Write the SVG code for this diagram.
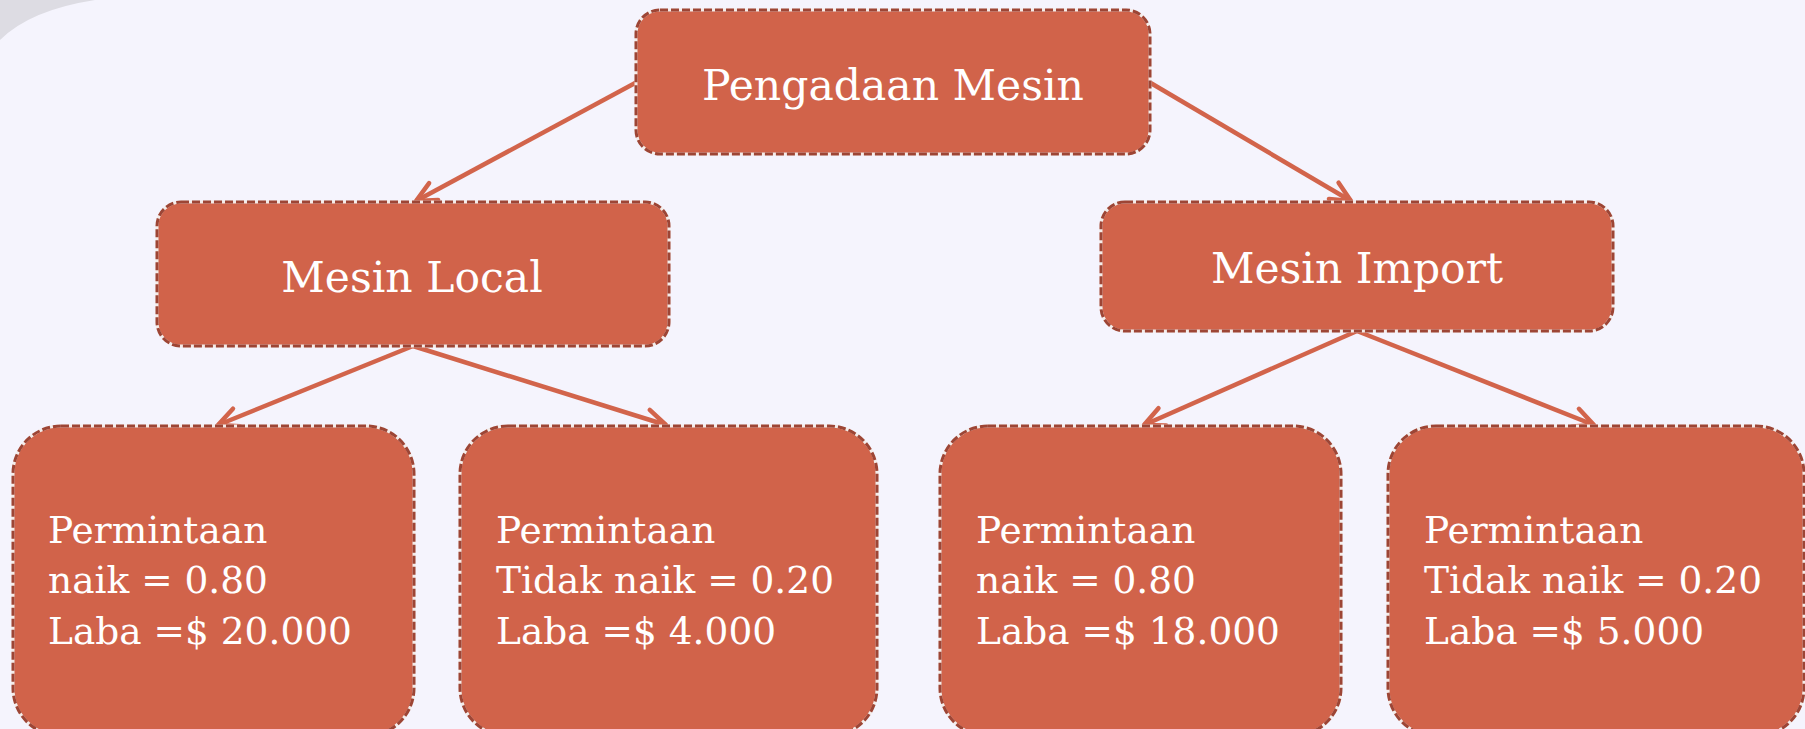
<svg xmlns="http://www.w3.org/2000/svg" width="1805" height="729" viewBox="0 0 1805 729">
<style>
.box{fill:#d1634a;stroke:#f3ece9;stroke-width:3}
.dash{fill:none;stroke:#9d4535;stroke-width:3;stroke-dasharray:8 3}
.t{font-family:"DejaVu Serif","Liberation Serif",serif;fill:#ffffff}
.big{font-size:42.5px;text-anchor:middle}
.small{font-size:37.5px}
.conn{stroke:#d2644b;stroke-width:4.5;fill:none;marker-end:url(#arr)}
</style>
<defs>
<marker id="arr" markerUnits="userSpaceOnUse" viewBox="-26 -15 32 30" refX="0" refY="0" markerWidth="32" markerHeight="30" orient="auto" overflow="visible">
<path d="M-20,-9.5 L0,0 L-20,9.5" fill="none" stroke="#d2644b" stroke-width="4.5" stroke-linecap="round" stroke-linejoin="round"/>
</marker>
</defs>
<rect width="1805" height="729" fill="#f5f4fd"/>
<path d="M0,0 L95,0 Q30,10 0,40 Z" fill="#dddce3"/>
<g id="connectors">
<line class="conn" x1="637" y1="82" x2="416" y2="201"/>
<line class="conn" x1="1149" y1="82" x2="1351" y2="201"/>
<line class="conn" x1="413" y1="346" x2="218" y2="425"/>
<line class="conn" x1="413" y1="346" x2="666" y2="425"/>
<line class="conn" x1="1357" y1="331" x2="1144" y2="425"/>
<line class="conn" x1="1357" y1="331" x2="1594" y2="425"/>
</g>
<g id="node-root">
<rect class="box" x="636" y="10" width="514" height="144" rx="24"/>
<rect class="dash" x="636" y="10" width="514" height="144" rx="24"/>
<text class="t big" x="893" y="100">Pengadaan Mesin</text>
</g>
<g id="node-local">
<rect class="box" x="157" y="202" width="512" height="144" rx="24"/>
<rect class="dash" x="157" y="202" width="512" height="144" rx="24"/>
<text class="t big" x="412" y="292">Mesin Local</text>
</g>
<g id="node-import">
<rect class="box" x="1101" y="202" width="512" height="129" rx="24"/>
<rect class="dash" x="1101" y="202" width="512" height="129" rx="24"/>
<text class="t big" x="1357" y="283">Mesin Import</text>
</g>
<g id="node-leaf1">
<rect class="box" x="13" y="426" width="401" height="310" rx="48"/>
<rect class="dash" x="13" y="426" width="401" height="310" rx="48"/>
<text class="t small" x="48" y="543">Permintaan</text>
<text class="t small" x="48" y="593">naik = 0.80</text>
<text class="t small" x="48" y="644">Laba =$ 20.000</text>
</g>
<g id="node-leaf2">
<rect class="box" x="460" y="426" width="417" height="310" rx="48"/>
<rect class="dash" x="460" y="426" width="417" height="310" rx="48"/>
<text class="t small" x="496" y="543">Permintaan</text>
<text class="t small" x="496" y="593">Tidak naik = 0.20</text>
<text class="t small" x="496" y="644">Laba =$ 4.000</text>
</g>
<g id="node-leaf3">
<rect class="box" x="940" y="426" width="401" height="310" rx="48"/>
<rect class="dash" x="940" y="426" width="401" height="310" rx="48"/>
<text class="t small" x="976" y="543">Permintaan</text>
<text class="t small" x="976" y="593">naik = 0.80</text>
<text class="t small" x="976" y="644">Laba =$ 18.000</text>
</g>
<g id="node-leaf4">
<rect class="box" x="1388" y="426" width="416" height="310" rx="48"/>
<rect class="dash" x="1388" y="426" width="416" height="310" rx="48"/>
<text class="t small" x="1424" y="543">Permintaan</text>
<text class="t small" x="1424" y="593">Tidak naik = 0.20</text>
<text class="t small" x="1424" y="644">Laba =$ 5.000</text>
</g>
</svg>
